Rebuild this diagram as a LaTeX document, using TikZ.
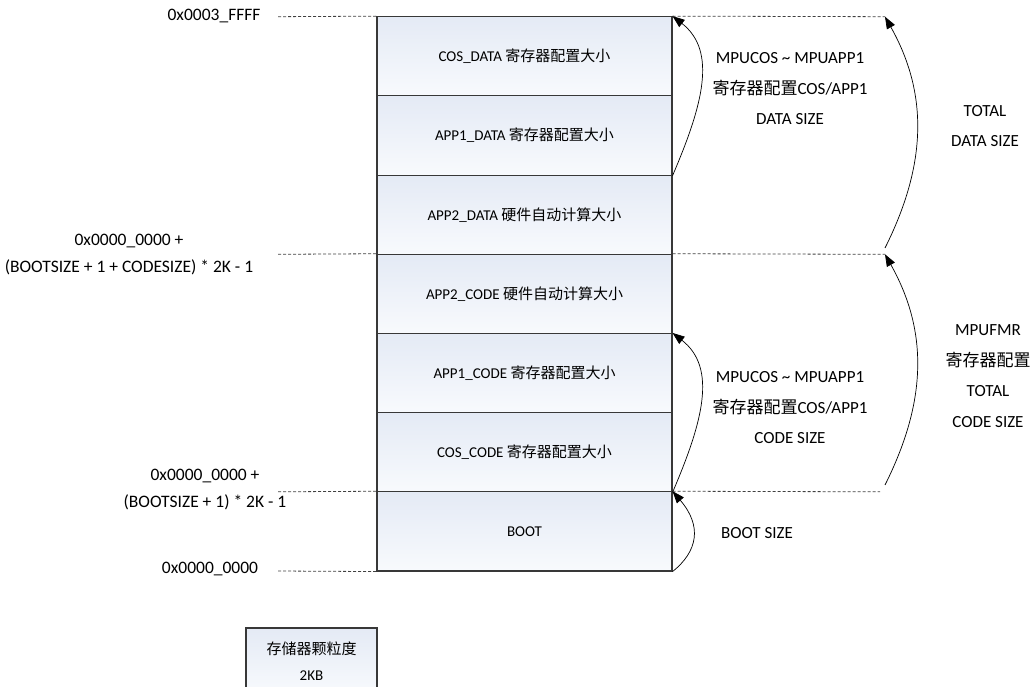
\documentclass[tikz,border=0pt]{standalone}
\usepackage{fontspec}
\setmainfont{Carlito}
\newfontfamily\cjk{Noto Sans CJK SC}
\usetikzlibrary{arrows.meta}
\definecolor{segtop}{HTML}{E4EAF5}
\definecolor{segbot}{HTML}{F8FAFD}
\begin{document}
\begin{tikzpicture}[x=1pt,y=-1pt,
  seg/.style={draw=black!78, line width=1.1pt, top color=segtop, bottom color=segbot,
    minimum width=295pt, minimum height=79.2pt, inner sep=0pt, font=\fontsize{15}{18}\selectfont},
  gbox/.style={draw=black!78, line width=1.1pt, top color=segtop, bottom color=segbot,
    minimum width=131pt, minimum height=66pt, inner sep=0pt, align=center, font=\fontsize{15}{26}\selectfont},
  lbl/.style={align=center, inner sep=0pt, font=\fontsize{17.5}{27}\selectfont},
  rlbl/.style={align=center, inner sep=0pt, font=\fontsize{17}{30.5}\selectfont},
  guide/.style={draw=black!75, line width=0.8pt, dash pattern=on 3pt off 2pt},
  arr/.style={draw=black, line width=0.7pt, -{Triangle[length=12pt,width=9pt]}}]
\useasboundingbox (0,0) rectangle (1030,687);

% memory stack
\node[seg] (b1) at (524.5,56.3)  {COS\_DATA {\cjk 寄存器配置大小}};
\node[seg] (b2) at (524.5,135.5) {APP1\_DATA {\cjk 寄存器配置大小}};
\node[seg] (b3) at (524.5,214.7) {APP2\_DATA {\cjk 硬件自动计算大小}};
\node[seg] (b4) at (524.5,293.9) {APP2\_CODE {\cjk 硬件自动计算大小}};
\node[seg] (b5) at (524.5,373.1) {APP1\_CODE {\cjk 寄存器配置大小}};
\node[seg] (b6) at (524.5,452.2) {COS\_CODE {\cjk 寄存器配置大小}};
\node[seg] (b7) at (524.5,531.4) {BOOT};

% granularity box
\node[gbox] (g) at (311.5,661) {{\cjk 存储器颗粒度}\\2KB};

% left address labels
\node[lbl] (a1) at (214,16) {0x0003\_FFFF};
\node[lbl] (a2) at (129,255) {0x0000\_0000 +\\(BOOTSIZE + 1 + CODESIZE) * 2K - 1};
\node[lbl] (a3) at (205,490) {0x0000\_0000 +\\(BOOTSIZE + 1) * 2K - 1};
\node[lbl] (a4) at (210,569) {0x0000\_0000};

% dashed guide lines
\coordinate (l1) at (278,16.7);
\coordinate (l2) at (278,254.3);
\coordinate (l3) at (278,491.8);
\coordinate (l4) at (278,571);
\coordinate (r1) at (885,16.7);
\coordinate (r2) at (885,254.3);
\coordinate (r3) at (880,491.8);
\draw[guide] (l1) -- (b1.north west);
\draw[guide] (l2) -- (b4.north west);
\draw[guide] (l3) -- (b7.north west);
\draw[guide] (l4) -- (b7.south west);
\draw[guide] (b1.north east) -- (r1);
\draw[guide] (b4.north east) -- (r2);
\draw[guide] (b7.north east) -- (r3);

% arrows
\coordinate (s1) at (885,248);
\coordinate (s2) at (885,485);
\draw[arr] (b2.south east) .. controls +(30,-70) and +(45,35) .. (b1.north east);
\draw[arr] (b6.south east) .. controls +(30,-70) and +(45,35) .. (b5.north east);
\draw[arr] (b7.south east) .. controls +(25,-20) and +(30,35) .. (b7.north east);
\draw[arr] (s1) .. controls +(40,-80) and +(45,80) .. (r1);
\draw[arr] (s2) .. controls +(40,-80) and +(45,80) .. (r2);

% right labels
\node[rlbl] (t1) at (790,89) {MPUCOS \textasciitilde{} MPUAPP1\\{\cjk 寄存器配置}COS/APP1\\DATA SIZE};
\node[rlbl] (t2) at (985,126) {TOTAL\\DATA SIZE};
\node[rlbl] (t3) at (790,408) {MPUCOS \textasciitilde{} MPUAPP1\\{\cjk 寄存器配置}COS/APP1\\CODE SIZE};
\node[rlbl] (t4) at (988,376) {MPUFMR\\{\cjk 寄存器配置}\\TOTAL\\CODE SIZE};
\node[rlbl] (t5) at (757,533) {BOOT SIZE};
\end{tikzpicture}
\end{document}
